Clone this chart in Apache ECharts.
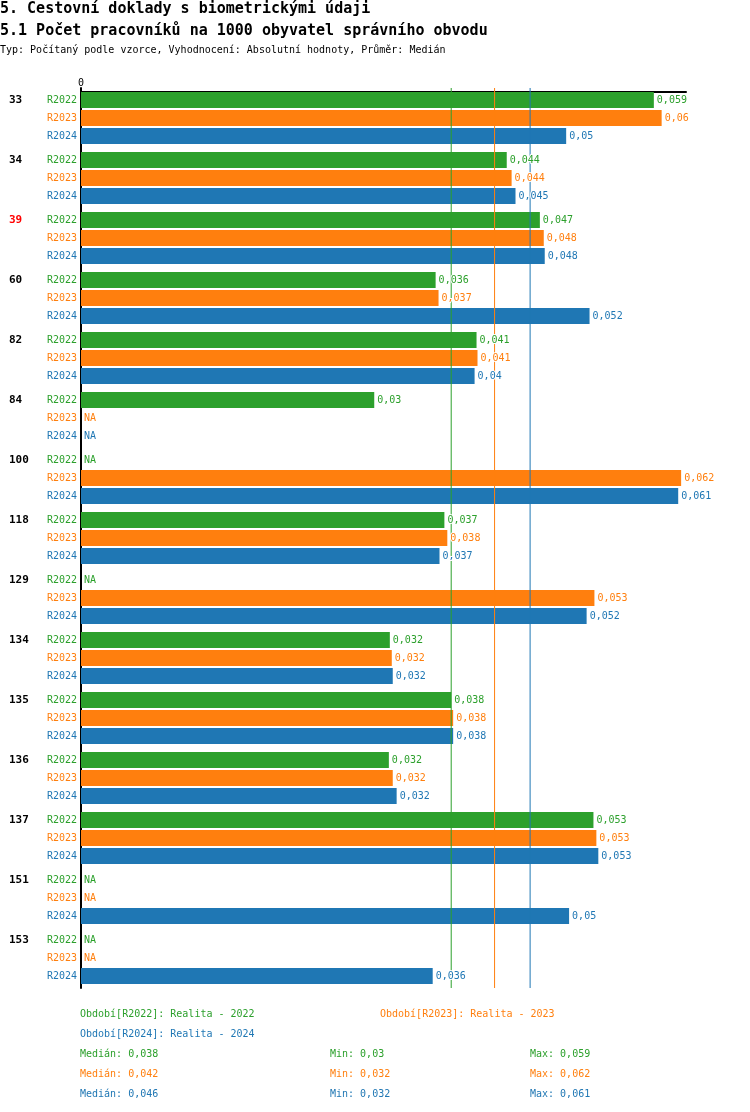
<!DOCTYPE html>
<html><head><meta charset="utf-8">
<script src="https://cdn.jsdelivr.net/npm/echarts@6/dist/echarts.min.js"></script>
<style>html,body{margin:0;padding:0;background:#fff}#c{width:750px;height:1112px}</style>
</head><body><div id="c"></div>
<script>
const titleLines = ['5. Cestovní doklady s biometrickými údaji', '5.1 Počet pracovníků na 1000 obyvatel správního obvodu'];
const subtitle = 'Typ: Počítaný podle vzorce, Vyhodnocení: Absolutní hodnoty, Průměr: Medián';
const categories = ['33','34','39','60','82','84','100','118','129','134','135','136','137','151','153'];
const highlighted = ['39'];
const periods = ['R2022','R2023','R2024'];
const periodNames = ['Realita - 2022','Realita - 2023','Realita - 2024'];
const r2022 = [0.0588,0.0437,0.0471,0.0364,0.0406,0.0301,null,0.0373,null,0.0317,0.0380,0.0316,0.0526,null,null];
const r2023 = [0.0596,0.0442,0.0475,0.0367,0.0407,null,0.0616,0.0376,0.0527,0.0319,0.0382,0.0320,0.0529,null,null];
const r2024 = [0.0498,0.0446,0.0476,0.0522,0.0404,null,0.0613,0.0368,0.0519,0.0320,0.0382,0.0324,0.0531,0.0501,0.0361];
const xTicks = [0];

const values = [r2022, r2023, r2024];
const colors = ['#2ca02c', '#ff7f0e', '#1f77b4'];
const mono = '"DejaVu Sans Mono", "Liberation Mono", monospace';
const fmt = v => String(+v.toFixed(3)).replace('.', ',');
function median(a){ const s=a.filter(v=>v!=null).sort((x,y)=>x-y); const n=s.length; return n%2? s[(n-1)/2] : (s[n/2-1]+s[n/2])/2; }
function minOf(a){ return Math.min(...a.filter(v=>v!=null)); }
function maxOf(a){ return Math.max(...a.filter(v=>v!=null)); }

const series = [];
values.forEach((vals, i) => {
  const stack = 's' + i;
  series.push({
    type: 'bar', stack, barWidth: 16, barGap: '12.5%', silent: true, z: 10, animation: false,
    data: vals.map(() => 0), itemStyle: { color: colors[i] },
    label: { show: true, position: 'left', distance: 4, formatter: periods[i], color: colors[i], fontFamily: mono, fontSize: 10 }
  });
  series.push({
    type: 'bar', stack, barWidth: 16, barGap: '12.5%', silent: true, z: 2, animation: false,
    data: vals.map(v => v == null ? 0 : v), itemStyle: { color: colors[i] }
  });
  series.push({
    type: 'bar', stack, barWidth: 16, barGap: '12.5%', silent: true, z: 10, animation: false,
    data: vals.map(() => 0), itemStyle: { color: colors[i] },
    label: { show: true, position: 'right', distance: 3, color: colors[i], fontFamily: mono, fontSize: 10,
      textBorderColor: '#fff', textBorderWidth: 2,
      formatter: p => vals[p.dataIndex] == null ? 'NA' : fmt(vals[p.dataIndex]) }
  });
});
values.forEach((vals, i) => {
  const m = median(vals);
  series.push({
    type: 'line', xAxisIndex: 0, yAxisIndex: 1, silent: true, z: 5, animation: false,
    symbol: 'none', data: [[m, 0], [m, 1]],
    lineStyle: { color: colors[i], width: 1, type: 'solid' }
  });
});

const graphic = [];
const T = (text, x, y, color, size, bold) => graphic.push({ type: 'text', x, y, silent: true,
  style: { text, fill: color, font: (bold ? 'bold ' : '') + size + 'px ' + mono, verticalAlign: 'middle', align: 'left' } });
T(titleLines[0], 0, 9, '#000', 15, true);
T(titleLines[1], 0, 31, '#000', 15, true);
T(subtitle, 0, 50, '#000', 10, false);
const legendPos = [[80, 1014], [380, 1014], [80, 1034]];
periods.forEach((p, i) => T('Období[' + p + ']: ' + periodNames[i], legendPos[i][0], legendPos[i][1], colors[i], 10, false));
values.forEach((vals, i) => {
  const y = 1054 + i * 20;
  T('Medián: ' + fmt(median(vals)), 80, y, colors[i], 10, false);
  T('Min: ' + fmt(minOf(vals)), 330, y, colors[i], 10, false);
  T('Max: ' + fmt(maxOf(vals)), 530, y, colors[i], 10, false);
});

const chart = echarts.init(document.getElementById('c'), null, { renderer: 'canvas' });
chart.setOption({
  animation: false,
  backgroundColor: '#fff',
  grid: { left: 81, top: 88, width: 605, height: 900, containLabel: false },
  xAxis: {
    type: 'value', position: 'top', min: 0, max: 0.0621, interval: 0.0621, offset: -4,
    axisLine: { show: true, lineStyle: { color: '#000', width: 2 } },
    axisTick: { show: false }, splitLine: { show: false },
    axisLabel: { margin: 4, color: '#000', fontFamily: mono, fontSize: 10,
      formatter: v => xTicks.includes(v) ? String(v) : '' }
  },
  yAxis: [{
    type: 'category', inverse: true, data: categories,
    axisLine: { show: true, lineStyle: { color: '#000', width: 2 } },
    axisTick: { show: false },
    axisLabel: { margin: 72, align: 'left', fontFamily: mono, fontSize: 11, fontWeight: 'bold',
      lineHeight: 12, formatter: v => v + '\n \n \n ',
      color: v => highlighted.includes(v) ? '#ff0000' : '#000' }
  }, {
    type: 'value', min: 0, max: 1, show: false, inverse: true
  }],
  series,
  graphic
});
</script></body></html>
